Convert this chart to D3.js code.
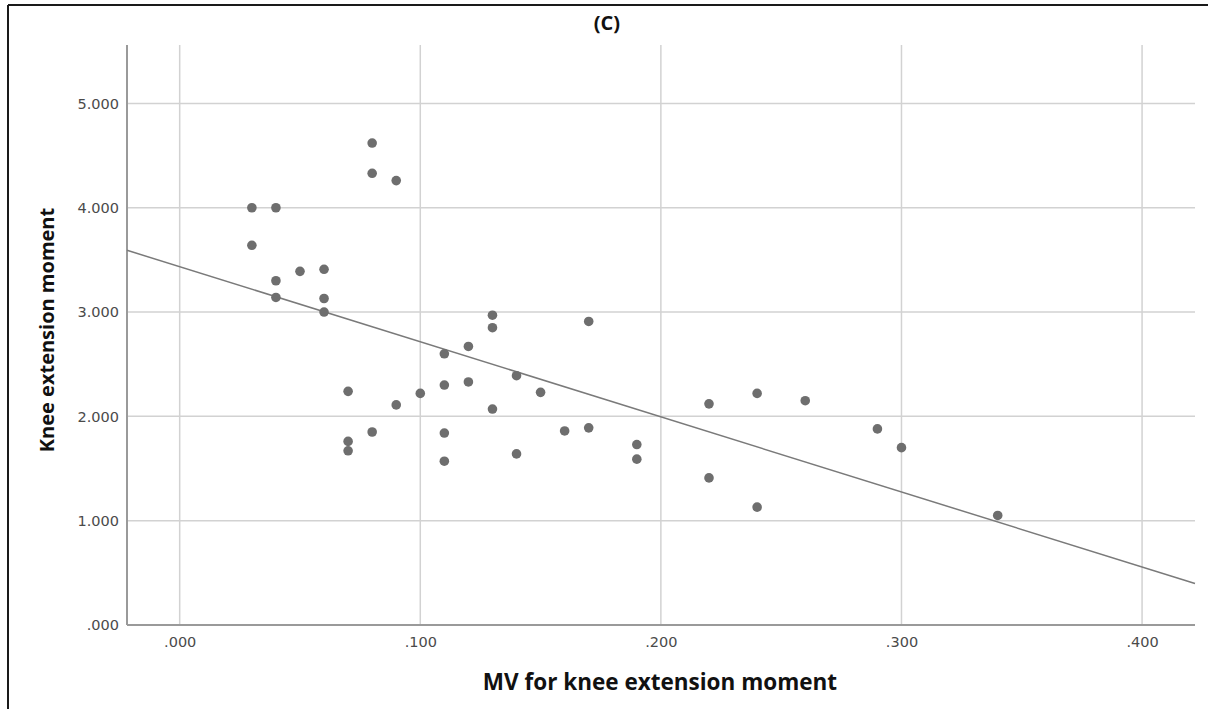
<!DOCTYPE html>
<html><head><meta charset="utf-8">
<script src="https://cdn.jsdelivr.net/npm/d3@7"></script>
<style>body{margin:0;background:#fff;} svg{display:block;}</style>
</head><body>
<svg id="chart" width="1208" height="709"></svg>
<script>
const mvValues = [0.08,0.08,0.09,0.03,0.04,0.03,0.05,0.06,0.04,0.04,0.06,0.06,
  0.13,0.13,0.17,0.12,0.11,0.14,0.15,0.07,0.10,0.11,0.12,0.09,0.13,0.08,0.07,0.07,0.11,0.11,0.14,0.16,0.17,
  0.19,0.19,0.22,0.24,0.26,0.29,0.30,0.22,0.24,0.34];
const kneeValues = [4.62,4.33,4.26,4.00,4.00,3.64,3.39,3.41,3.30,3.14,3.13,3.00,
  2.97,2.85,2.91,2.67,2.60,2.39,2.23,2.24,2.22,2.30,2.33,2.11,2.07,1.85,1.76,1.67,1.84,1.57,1.64,1.86,1.89,
  1.73,1.59,2.12,2.22,2.15,1.88,1.70,1.41,1.13,1.05];
const xTicks = [0, 0.1, 0.2, 0.3, 0.4];
const yTicks = [0, 1, 2, 3, 4, 5];
const xDomain = [-0.0219, 0.422];
const yDomain = [0, 5.56];
const title = "(C)";
const xLabel = "MV for knee extension moment";
const yLabel = "Knee extension moment";

const svg = d3.select("#chart");
const L = 127, R = 1195, T = 45, B = 625;
const x = d3.scaleLinear().domain(xDomain).range([L, R]);
const y = d3.scaleLinear().domain(yDomain).range([B, T]);
const font = "'Open Sans', 'Noto Sans', sans-serif";
const tickFont = "'DejaVu Sans', Verdana, sans-serif";

// frame (cropped image border: top and left)
svg.append("line").attr("x1",8).attr("x2",1208).attr("y1",5).attr("y2",5).attr("stroke","#1a1a1a").attr("stroke-width",2);
svg.append("line").attr("x1",8).attr("x2",8).attr("y1",5).attr("y2",709).attr("stroke","#1a1a1a").attr("stroke-width",2);

// grid
svg.append("g").selectAll("line").data(yTicks.filter(d=>d>0)).join("line")
  .attr("x1",L).attr("x2",R).attr("y1",d=>y(d)).attr("y2",d=>y(d))
  .attr("stroke","#d2d2d2").attr("stroke-width",1.5);
svg.append("g").selectAll("line").data(xTicks).join("line")
  .attr("x1",d=>x(d)).attr("x2",d=>x(d)).attr("y1",T).attr("y2",B)
  .attr("stroke","#d2d2d2").attr("stroke-width",1.5);

// axes
const fmt = d => d3.format(".3f")(d).replace(/^0\./, ".");
const xAxis = svg.append("g").attr("transform",`translate(0,${B})`)
  .call(d3.axisBottom(x).tickValues(xTicks).tickFormat(fmt).tickSize(0).tickPadding(12));
const yAxis = svg.append("g").attr("transform",`translate(${L},0)`)
  .call(d3.axisLeft(y).tickValues(yTicks).tickFormat(fmt).tickSize(0).tickPadding(8));
[xAxis, yAxis].forEach(g => {
  g.select(".domain").attr("stroke","#9a9a9a").attr("stroke-width",2);
  g.selectAll("text").attr("font-family",tickFont).attr("font-size",14.5).attr("fill","#4a4a4a");
});
xAxis.select(".domain").attr("d", `M${L},0H${R}`);
yAxis.select(".domain").attr("d", `M0,${T}V${B}`);

// regression line (least squares from data)
const mx = d3.mean(mvValues), my = d3.mean(kneeValues);
let sxy = 0, sxx = 0;
mvValues.forEach((v,i)=>{ sxy += (v-mx)*(kneeValues[i]-my); sxx += (v-mx)*(v-mx); });
const slope = sxy/sxx, intercept = my - slope*mx;
svg.append("line")
  .attr("x1",x(xDomain[0])).attr("y1",y(intercept+slope*xDomain[0]))
  .attr("x2",x(xDomain[1])).attr("y2",y(intercept+slope*xDomain[1]))
  .attr("stroke","#7a7a7a").attr("stroke-width",1.5);

// points
svg.append("g").selectAll("circle").data(mvValues).join("circle")
  .attr("cx",d=>x(d)).attr("cy",(d,i)=>y(kneeValues[i])).attr("r",4.8)
  .attr("fill","#6e6e6e");

// texts
svg.append("text").attr("x",607).attr("y",30).attr("text-anchor","middle")
  .attr("font-family",font).attr("font-weight","bold").attr("font-size",20).attr("fill","#111").text(title);
svg.append("text").attr("x",660).attr("y",690).attr("text-anchor","middle")
  .attr("font-family",font).attr("font-weight","bold").attr("font-size",22.5).attr("fill","#111").text(xLabel);
svg.append("text").attr("transform",`translate(54,330) rotate(-90)`).attr("text-anchor","middle")
  .attr("font-family",font).attr("font-weight","bold").attr("font-size",20).attr("fill","#111").text(yLabel);
</script>
</body></html>
